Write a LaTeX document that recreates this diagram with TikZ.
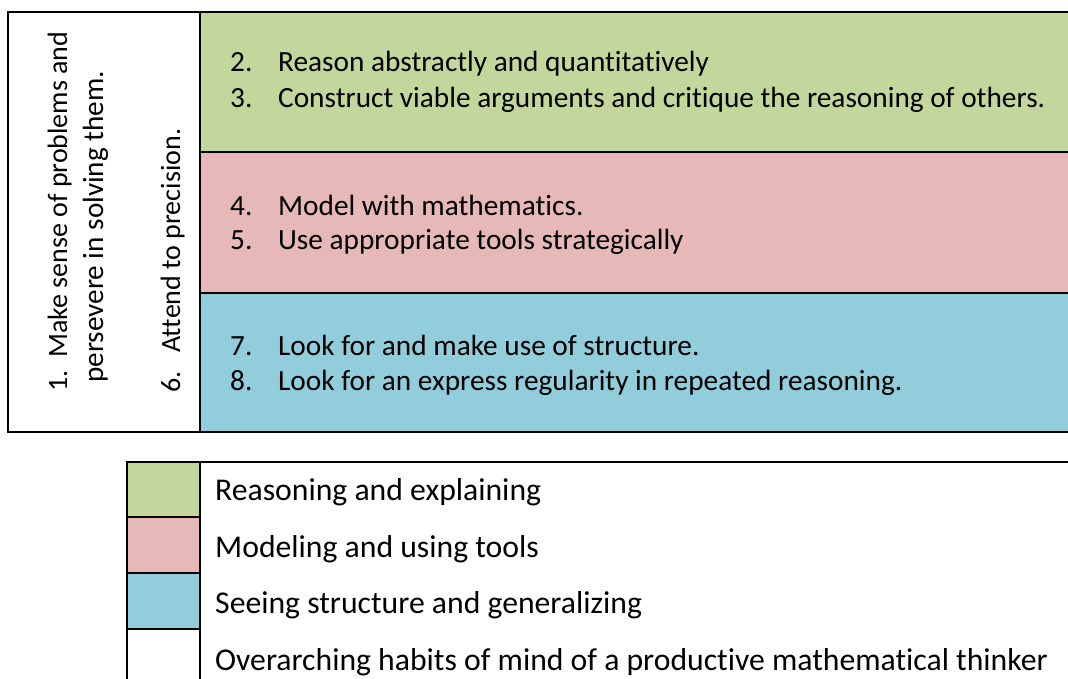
\documentclass[tikz,border=0pt]{standalone}
\usepackage{fontspec}
\setmainfont{Carlito}[Ligatures={NoCommon}]
\definecolor{reasongreen}{HTML}{C3D69B}
\definecolor{modelpink}{HTML}{E6B9B8}
\definecolor{structblue}{HTML}{92CDDC}
\newcommand{\itemno}[1]{\makebox[48pt][l]{#1}}
\begin{document}
\begin{tikzpicture}[x=1pt,y=-1pt,
  rule/.style={line width=2pt, line cap=rect},
  txt/.style={anchor=base west, inner sep=0pt, font=\fontsize{29.3}{35}\selectfont},
  keytxt/.style={txt, font=\fontsize{31.7}{38}\selectfont},
  vtxt/.style={txt, rotate=90, font=\fontsize{28}{34}\selectfont}]
\useasboundingbox (0,0) rectangle (1068,679);
\clip (0,0) rectangle (1068,679);
\fill[white] (0,0) rectangle (1068,679);

% practice bands
\fill[reasongreen] (200,12) rectangle (1080,152);
\fill[modelpink]   (200,152) rectangle (1080,293);
\fill[structblue]  (200,293) rectangle (1080,432);
\draw[rule] (1080,12) -- (8,12) -- (8,432) -- (1080,432);
\draw[rule] (200,12) -- (200,432);
\draw[rule] (200,152) -- (1080,152);
\draw[rule] (200,293) -- (1080,293);

% overarching practices, set vertically
\node[vtxt] (p1a) at (67,392) {1.\ \ Make sense of problems and};
\node[vtxt, font=\fontsize{29.2}{35}\selectfont] (p1b) at (103,383) {persevere in solving them.};
\node[vtxt] (p6)  at (180,393) {6.\ \ \ Attend to precision.};

% grouped practices
\node[txt] (p2) at (230,72)  {\itemno{2.}Reason abstractly and quantitatively};
\node[txt] (p3) at (230,108) {\itemno{3.}Construct viable arguments and critique the reasoning of others.};
\node[txt] (p4) at (230,215) {\itemno{4.}Model with mathematics.};
\node[txt] (p5) at (230,250) {\itemno{5.}Use appropriate tools strategically};
\node[txt] (p7) at (230,355) {\itemno{7.}Look for and make use of structure.};
\node[txt] (p8) at (230,390) {\itemno{8.}Look for an express regularity in repeated reasoning.};

% legend
\fill[reasongreen] (127,462) rectangle (200,517);
\fill[modelpink]   (127,517) rectangle (200,573);
\fill[structblue]  (127,573) rectangle (200,629);
\draw[rule] (1080,462) -- (127,462) -- (127,690);
\draw[rule] (200,462) -- (200,690);
\draw[rule] (127,517) -- (200,517);
\draw[rule] (127,573) -- (200,573);
\draw[rule] (127,629) -- (200,629);
\node[keytxt] (k1) at (215,500) {Reasoning and explaining};
\node[keytxt] (k2) at (215,557) {Modeling and using tools};
\node[keytxt] (k3) at (215,613) {Seeing structure and generalizing};
\node[keytxt] (k4) at (215,670) {Overarching habits of mind of a productive mathematical thinker};
\end{tikzpicture}
\end{document}
